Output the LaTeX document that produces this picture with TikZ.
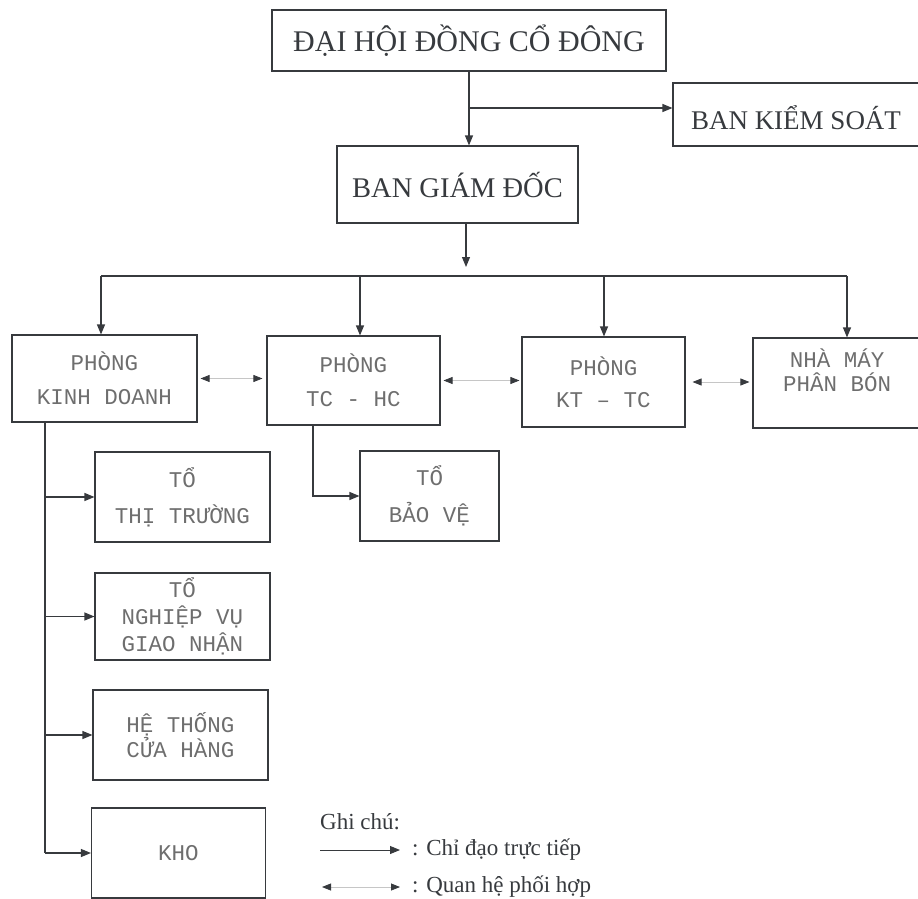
\documentclass[tikz,border=0pt]{standalone}
\usepackage{fontspec}
\setmainfont{Liberation Serif}
\newfontfamily\monof{Liberation Mono}
\usetikzlibrary{arrows.meta}
\definecolor{ink}{RGB}{55,58,62}
\definecolor{light}{RGB}{110,110,110}
\tikzset{
  box/.style={draw=ink, line width=1.1pt, inner sep=0pt, align=center},
  topbox/.style={box, text=ink, font={\fontsize{28.5}{30}\selectfont}},
  lowbox/.style={box, text=light, font={\monof\fontsize{22.5}{34}\selectfont}},
  arr/.style={draw=ink, line width=1.1pt, -{Triangle[length=10pt,width=8pt]}},
  ln/.style={draw=ink, line width=1.1pt},
  co/.style={draw=gray!45, line width=0.8pt, {Triangle[length=9pt,width=7pt,color=ink]}-{Triangle[length=9pt,width=7pt,color=ink]}},
  legtext/.style={anchor=west, text=ink, inner sep=0pt, font={\fontsize{23}{26}\selectfont}}
}
\begin{document}
\begin{tikzpicture}[x=1pt,y=-1pt]
\useasboundingbox (0,0) rectangle (918,899);
\clip (0,0) rectangle (918,899);
% top level
\node[topbox, minimum width=394pt, minimum height=61pt, font={\fontsize{30}{32}\selectfont}] (dh) at (469,40.5) {ĐẠI HỘI ĐỒNG CỔ ĐÔNG};
\node[box, minimum width=257pt, minimum height=63pt] (bks) at (801.5,114.5) {};
\node[text=ink, font={\fontsize{27}{29}\selectfont}, inner sep=0pt] (bkst) at (796,118) {BAN KIỂM SOÁT};
\node[topbox, minimum width=241pt, minimum height=77pt] (bgd) at (457.5,184.5) {BAN GIÁM ĐỐC};
% second row
\node[lowbox, minimum width=185pt, minimum height=87pt] (kd) at (104.5,378.5) {PHÒNG\\KINH DOANH};
\node[lowbox, minimum width=173pt, minimum height=89pt] (tchc) at (353.5,380.5) {PHÒNG\\TC - HC};
\node[lowbox, minimum width=163pt, minimum height=90pt, font={\monof\fontsize{22.5}{32}\selectfont}] (kttc) at (603.5,382) {PHÒNG\\KT – TC};
\node[box, minimum width=180pt, minimum height=90pt] (nm) at (843,383) {};
\node[text=light, align=center, inner sep=0pt, font={\monof\fontsize{22.5}{24}\selectfont}] (nmt) at (837,370) {NHÀ MÁY\\PHÂN BÓN};
% sub boxes
\node[lowbox, minimum width=175pt, minimum height=90pt, font={\monof\fontsize{22.5}{36}\selectfont}] (ttt) at (182.5,497) {TỔ\\THỊ TRƯỜNG};
\node[lowbox, minimum width=139pt, minimum height=90pt, font={\monof\fontsize{22.5}{37}\selectfont}] (tbv) at (429.5,496) {TỔ\\BẢO VỆ};
\node[lowbox, minimum width=175pt, minimum height=87pt, font={\monof\fontsize{22.5}{27}\selectfont}] (tnv) at (182.5,616.5) {TỔ\\NGHIỆP VỤ\\GIAO NHẬN};
\node[lowbox, minimum width=175pt, minimum height=90pt, font={\monof\fontsize{22.5}{25}\selectfont}] (ht) at (180.5,735) {HỆ THỐNG\\CỬA HÀNG};
\node[lowbox, minimum width=174pt, minimum height=90pt] (kho) at (178.5,853) {KHO};
% helper coordinates
\coordinate (j1) at (469,108);
\coordinate (bx) at (466,0);
\coordinate (b1) at (466,267);
\coordinate (hl) at (101,276);
\coordinate (hr) at (847,276);
\coordinate (h2) at (360,276);
\coordinate (h3) at (604,276);
\coordinate (kdx) at (45,0);
\coordinate (tcx) at (313,0);
% connectors top
\draw[arr] (dh.south) -- (dh.south |- bgd.north);
\draw[arr] (j1) -- (j1 -| bks.west);
\draw[arr] (bgd.south -| bx) -- (b1);
\draw[ln] (hl) -- (hr);
\draw[arr] (hl) -- (hl |- kd.north);
\draw[arr] (h2) -- (h2 |- tchc.north);
\draw[arr] (h3) -- (h3 |- kttc.north);
\draw[arr] (hr) -- (hr |- nm.north);
% coordination
\draw[co, shorten <=3pt, shorten >=4pt] (kd.east) -- (kd.east -| tchc.west);
\draw[co, shorten <=3pt, shorten >=2pt] (tchc.east) -- (tchc.east -| kttc.west);
\draw[co, shorten <=7pt, shorten >=3pt] (kttc.east) -- (kttc.east -| nm.west);
% left branches
\draw[ln] (kd.south -| kdx) -- (kdx |- kho.west);
\draw[arr] (kdx |- ttt.west) -- (ttt.west);
\draw[arr] (kdx |- tnv.west) -- (tnv.west);
\draw[arr] (kdx |- ht.west) -- (ht.west);
\draw[arr] (kdx |- kho.west) -- (kho.west);
\draw[arr] (tchc.south -| tcx) |- (tbv.west);
% legend
\node[legtext] (gc) at (320,822) {Ghi chú:};
\coordinate (l1a) at (320,850);
\coordinate (l1b) at (400,850);
\coordinate (l2a) at (322,887);
\coordinate (l2b) at (400,887);
\draw[arr, line width=0.9pt] (l1a) -- (l1b);
\draw[co] (l2a) -- (l2b);
\node[legtext] (lt1) at (412,850) {: Chỉ đạo trực tiếp};
\node[legtext] (lt2) at (412,887) {: Quan hệ phối hợp};
\end{tikzpicture}
\end{document}
